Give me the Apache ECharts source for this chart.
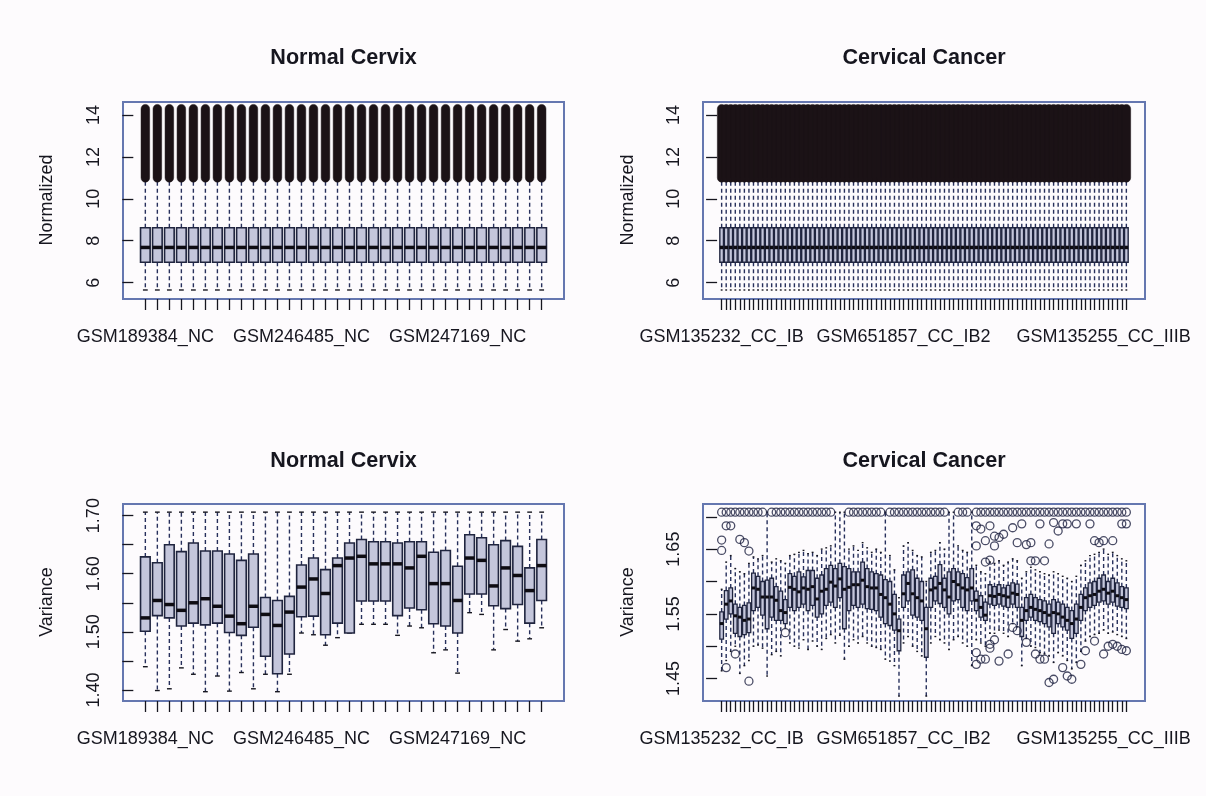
<!DOCTYPE html>
<html>
<head>
<meta charset="utf-8">
<script src="https://cdn.jsdelivr.net/npm/echarts@6/dist/echarts.min.js"></script>
<style>
  html, body { margin: 0; padding: 0; background: #fdfbfd; }
  #chart { width: 1206px; height: 796px; }
</style>
</head>
<body>
<div id="chart"></div>
<script>
// ---- tick labels under each panel ('' = tick drawn without a printed name) ----
const ncTickLabels = [
  'GSM189384_NC', '', '', '', '', '', '', '', '', '', '', '', '',
  'GSM246485_NC', '', '', '', '', '', '', '', '', '', '', '', '',
  'GSM247169_NC', '', '', '', '', '', '', ''
];
const ccTickLabels = [
  'GSM135232_CC_IB', '', '', '', '', '', '', '', '', '', '', '', '', '', '', '', '', '', '', '',
  '', '', '', '', '', '', '', '', '', '', '', '', '', '', '', '', '', '', '', '',
  'GSM651857_CC_IB2', '', '', '', '', '', '', '', '', '', '', '', '', '', '', '', '', '', '', '',
  '', '', '', '', '', '', '', '', '', '', '', '', '', '', '', '', '', '', '', '',
  '', '', '', '', 'GSM135255_CC_IIIB', '', '', '', '', ''
];

// ---- y-axis ticks and labels ----
const normTicks = [6, 8, 10, 12, 14];
const ncVarTicks = [1.40, 1.45, 1.50, 1.55, 1.60, 1.65, 1.70];
const ncVarLabels = [1.40, 1.50, 1.60, 1.70];
const ccVarTicks = [1.45, 1.50, 1.55, 1.60, 1.65, 1.70];
const ccVarLabels = [1.45, 1.55, 1.65];

// ---- quantile-normalized expression: every array shares one distribution ----
// [lower whisker, Q1, median, Q3, upper whisker]
const normalizedBox = [5.65, 6.97, 7.68, 8.62, 10.90];
// span of the dense run of outliers above the upper whisker
const normalizedOutlierSpan = [11.0, 14.3];

// ---- variance, normal cervix (34 arrays) ----
const ncVarLow = [1.440, 1.399, 1.402, 1.438, 1.427, 1.397, 1.424, 1.398, 1.430, 1.402, 1.427, 1.397, 1.427, 1.498, 1.495, 1.477, 1.490,
                  1.498, 1.513, 1.513, 1.513, 1.494, 1.510, 1.507, 1.464, 1.469, 1.429, 1.533, 1.530, 1.469, 1.504, 1.484, 1.488, 1.507];
const ncVarQ1 = [1.501, 1.528, 1.524, 1.510, 1.515, 1.512, 1.515, 1.499, 1.494, 1.508, 1.458, 1.428, 1.462, 1.526, 1.527, 1.495, 1.515,
                 1.498, 1.553, 1.553, 1.553, 1.528, 1.541, 1.538, 1.514, 1.510, 1.498, 1.565, 1.565, 1.545, 1.540, 1.547, 1.515, 1.554];
const ncVarMedian = [1.524, 1.554, 1.547, 1.537, 1.550, 1.557, 1.544, 1.527, 1.514, 1.544, 1.530, 1.511, 1.534, 1.577, 1.591, 1.566, 1.614,
                     1.627, 1.630, 1.617, 1.617, 1.617, 1.610, 1.630, 1.583, 1.583, 1.554, 1.627, 1.623, 1.579, 1.610, 1.597, 1.571, 1.614];
const ncVarQ3 = [1.629, 1.619, 1.650, 1.638, 1.653, 1.639, 1.639, 1.634, 1.623, 1.634, 1.559, 1.554, 1.561, 1.615, 1.627, 1.607, 1.627,
                 1.653, 1.659, 1.655, 1.655, 1.653, 1.655, 1.655, 1.637, 1.640, 1.613, 1.667, 1.662, 1.650, 1.657, 1.647, 1.610, 1.659];
const ncVarHigh = [1.706, 1.706, 1.706, 1.706, 1.706, 1.706, 1.706, 1.706, 1.706, 1.706, 1.706, 1.706, 1.706, 1.706, 1.706, 1.706, 1.706,
                   1.706, 1.706, 1.706, 1.706, 1.706, 1.706, 1.706, 1.706, 1.706, 1.706, 1.706, 1.706, 1.706, 1.706, 1.706, 1.706, 1.706];

// ---- variance, cervical cancer (90 arrays) ----
const ccVarLow = [
  1.462, 1.478, 1.492, 1.500, 1.458, 1.470, 1.478, 1.500, 1.502, 1.497, 1.454, 1.487, 1.492, 1.485, 1.528,
  1.505, 1.500, 1.497, 1.510, 1.495, 1.508, 1.500, 1.495, 1.512, 1.518, 1.505, 1.517, 1.480, 1.500, 1.510,
  1.505, 1.515, 1.505, 1.500, 1.498, 1.495, 1.480, 1.477, 1.470, 1.423, 1.505, 1.515, 1.500, 1.492, 1.485,
  1.423, 1.505, 1.515, 1.510, 1.505, 1.495, 1.510, 1.515, 1.505, 1.500, 1.470, 1.510, 1.505, 1.500, 1.520,
  1.520, 1.525, 1.520, 1.515, 1.535, 1.530, 1.470, 1.512, 1.500, 1.498, 1.490, 1.488, 1.485, 1.475, 1.490,
  1.485, 1.478, 1.465, 1.475, 1.492, 1.508, 1.515, 1.518, 1.520, 1.525, 1.520, 1.522, 1.518, 1.515, 1.512
];
const ccVarQ1 = [
  1.511, 1.542, 1.550, 1.520, 1.515, 1.518, 1.521, 1.555, 1.560, 1.548, 1.527, 1.545, 1.540, 1.540, 1.535,
  1.560, 1.555, 1.560, 1.565, 1.555, 1.563, 1.545, 1.550, 1.563, 1.568, 1.560, 1.575, 1.527, 1.555, 1.563,
  1.560, 1.565, 1.558, 1.557, 1.555, 1.545, 1.535, 1.532, 1.525, 1.493, 1.560, 1.570, 1.548, 1.545, 1.540,
  1.483, 1.560, 1.570, 1.566, 1.560, 1.550, 1.570, 1.572, 1.560, 1.555, 1.570, 1.555, 1.545, 1.540, 1.565,
  1.563, 1.565, 1.562, 1.560, 1.565, 1.560, 1.515, 1.540, 1.545, 1.540, 1.538, 1.535, 1.530, 1.520, 1.535,
  1.530, 1.525, 1.512, 1.520, 1.540, 1.555, 1.560, 1.563, 1.568, 1.570, 1.565, 1.568, 1.562, 1.560, 1.558
];
const ccVarMedian = [
  1.535, 1.565, 1.570, 1.547, 1.545, 1.540, 1.542, 1.590, 1.588, 1.576, 1.576, 1.576, 1.571, 1.555, 1.552,
  1.591, 1.588, 1.584, 1.590, 1.588, 1.592, 1.573, 1.585, 1.588, 1.599, 1.593, 1.604, 1.588, 1.591, 1.595,
  1.595, 1.602, 1.592, 1.590, 1.590, 1.580, 1.575, 1.565, 1.550, 1.524, 1.581, 1.597, 1.581, 1.575, 1.570,
  1.527, 1.587, 1.590, 1.597, 1.587, 1.576, 1.600, 1.595, 1.590, 1.587, 1.590, 1.571, 1.560, 1.548, 1.578,
  1.577, 1.580, 1.578, 1.576, 1.582, 1.580, 1.540, 1.555, 1.560, 1.557, 1.555, 1.552, 1.548, 1.552, 1.550,
  1.545, 1.540, 1.535, 1.542, 1.560, 1.575, 1.578, 1.580, 1.585, 1.588, 1.582, 1.585, 1.578, 1.575, 1.572
];
const ccVarQ3 = [
  1.553, 1.586, 1.590, 1.565, 1.560, 1.563, 1.567, 1.613, 1.608, 1.600, 1.602, 1.605, 1.592, 1.585, 1.572,
  1.612, 1.608, 1.615, 1.607, 1.617, 1.617, 1.605, 1.610, 1.620, 1.625, 1.620, 1.628, 1.623, 1.620, 1.615,
  1.615, 1.630, 1.620, 1.615, 1.612, 1.610, 1.603, 1.600, 1.580, 1.542, 1.610, 1.615, 1.618, 1.605, 1.600,
  1.560, 1.605, 1.608, 1.626, 1.605, 1.615, 1.620, 1.615, 1.612, 1.606, 1.620, 1.585, 1.578, 1.568, 1.595,
  1.592, 1.595, 1.590, 1.594, 1.598, 1.596, 1.560, 1.575, 1.580, 1.575, 1.572, 1.570, 1.565, 1.572, 1.568,
  1.565, 1.560, 1.555, 1.565, 1.580, 1.590, 1.598, 1.600, 1.605, 1.610, 1.600, 1.605, 1.598, 1.592, 1.590
];
const ccVarHigh = [
  1.588, 1.630, 1.640, 1.620, 1.615, 1.612, 1.628, 1.638, 1.635, 1.640, 1.707, 1.630, 1.635, 1.632, 1.628,
  1.640, 1.642, 1.645, 1.648, 1.643, 1.645, 1.640, 1.650, 1.652, 1.655, 1.707, 1.707, 1.707, 1.650, 1.655,
  1.648, 1.660, 1.652, 1.645, 1.650, 1.645, 1.707, 1.640, 1.618, 1.575, 1.655, 1.660, 1.648, 1.640, 1.638,
  1.600, 1.645, 1.648, 1.660, 1.650, 1.707, 1.707, 1.655, 1.648, 1.645, 1.707, 1.625, 1.615, 1.612, 1.630,
  1.628, 1.632, 1.625, 1.630, 1.635, 1.632, 1.605, 1.615, 1.622, 1.618, 1.615, 1.612, 1.610, 1.615, 1.612,
  1.608, 1.605, 1.600, 1.608, 1.625, 1.632, 1.640, 1.642, 1.645, 1.650, 1.642, 1.645, 1.640, 1.635, 1.632
];
const ccVarOutliers = [
  [1.707, 1.664, 1.648], [1.707, 1.686, 1.467], [1.707, 1.686], [1.707, 1.488], [1.707, 1.665],
  [1.707, 1.660], [1.707, 1.647, 1.446], [1.707], [1.707], [1.707],
  [], [1.707], [1.707], [1.707], [1.707, 1.521],
  [1.707], [1.707], [1.707], [1.707], [1.707],
  [1.707], [1.707], [1.707], [1.707], [1.707],
  [], [], [], [1.707], [1.707],
  [1.707], [1.707], [1.707], [1.707], [1.707],
  [1.707], [], [1.707], [1.707], [1.707],
  [1.707], [1.707], [1.707], [1.707], [1.707],
  [1.707], [1.707], [1.707], [1.707], [1.707],
  [], [], [1.707], [1.707], [1.707],
  [], [1.707, 1.686, 1.655, 1.490, 1.472], [1.707, 1.681, 1.480], [1.707, 1.663, 1.630, 1.480], [1.707, 1.686, 1.633, 1.503, 1.497],
  [1.707, 1.670, 1.655, 1.510], [1.707, 1.668, 1.477], [1.707, 1.673], [1.707, 1.488], [1.707, 1.683, 1.529],
  [1.707, 1.660, 1.524], [1.707, 1.689], [1.707, 1.657, 1.506], [1.707, 1.660, 1.632], [1.707, 1.632, 1.488],
  [1.707, 1.689, 1.480], [1.707, 1.632, 1.480], [1.707, 1.658, 1.444], [1.707, 1.691, 1.449], [1.707, 1.678],
  [1.707, 1.689, 1.467], [1.707, 1.689, 1.454], [1.707, 1.449], [1.707, 1.689], [1.707, 1.472],
  [1.707, 1.493], [1.707, 1.689], [1.707, 1.663, 1.508], [1.707, 1.660], [1.707, 1.663, 1.488],
  [1.707, 1.500], [1.707, 1.663, 1.503], [1.707, 1.500], [1.707, 1.689, 1.495], [1.707, 1.689, 1.493]
];

// ---- styling ----
const FONT = '"Liberation Sans", Arial, Helvetica, sans-serif';
const INK = '#16161f';
const FRAME = '#6577b0';
const BOX_FILL = '#c4c6db';
const BOX_EDGE = '#20253f';
const WHISKER = '#27305c';

// plot regions, in the order: normalized NC, normalized CC, variance NC, variance CC
const panels = [
  { left: 123, top: 102, width: 441, height: 197 },
  { left: 703, top: 102, width: 442, height: 197 },
  { left: 123, top: 504, width: 441, height: 197 },
  { left: 703, top: 504, width: 442, height: 197 }
];

function xAxisFor(gridIndex, labels) {
  const n = labels.length;
  const pos = labels.map((_, i) => i + 1);
  return {
    type: 'value', gridIndex,
    min: 0.5 - 0.04 * n, max: n + 0.5 + 0.04 * n,
    splitLine: { show: false },
    axisLine: { show: false },
    axisTick: { show: true, customValues: pos, length: 11, lineStyle: { color: INK, width: 1.3 } },
    axisLabel: {
      show: true,
      customValues: pos.filter(p => labels[p - 1] !== ''),
      formatter: v => labels[Math.round(v) - 1] || '',
      margin: 29, fontSize: 18, fontFamily: FONT, color: INK, hideOverlap: false
    }
  };
}

function yAxisFor(gridIndex, min, max, ticks, labels, digits) {
  return {
    type: 'value', gridIndex, min, max,
    splitLine: { show: false },
    axisLine: { show: false },
    axisTick: { show: true, customValues: ticks, length: 11, lineStyle: { color: INK, width: 1.3 } },
    axisLabel: {
      show: true, customValues: labels, rotate: 90, margin: 20,
      formatter: v => Number(v).toFixed(digits),
      fontSize: 18, fontFamily: FONT, color: INK, hideOverlap: false
    }
  };
}

// one R-style box: dashed whiskers, short staples, filled box, thick median
function makeBoxRenderer(edgeWidth, medianWidth) {
  return function (params, api) {
    const x = api.value(0);
    const lo = api.coord([x, api.value(1)]);
    const q1 = api.coord([x, api.value(2)]);
    const md = api.coord([x, api.value(3)]);
    const q3 = api.coord([x, api.value(4)]);
    const hi = api.coord([x, api.value(5)]);
    const w = api.size([0.8, 0])[0];
    const cx = md[0];
    const staple = w / 4;
    const dash = { stroke: WHISKER, lineWidth: 1.4, lineDash: [4, 3] };
    return {
      type: 'group',
      children: [
        { type: 'line', shape: { x1: cx, y1: q3[1], x2: cx, y2: hi[1] }, style: dash },
        { type: 'line', shape: { x1: cx, y1: q1[1], x2: cx, y2: lo[1] }, style: dash },
        { type: 'line', shape: { x1: cx - staple, y1: hi[1], x2: cx + staple, y2: hi[1] }, style: { stroke: INK, lineWidth: 1.4 } },
        { type: 'line', shape: { x1: cx - staple, y1: lo[1], x2: cx + staple, y2: lo[1] }, style: { stroke: INK, lineWidth: 1.4 } },
        { type: 'rect', shape: { x: cx - w / 2, y: q3[1], width: w, height: q1[1] - q3[1] },
          style: { fill: BOX_FILL, stroke: BOX_EDGE, lineWidth: edgeWidth } },
        { type: 'line', shape: { x1: cx - w / 2, y1: md[1], x2: cx + w / 2, y2: md[1] }, style: { stroke: '#0e0c12', lineWidth: medianWidth } }
      ]
    };
  };
}

// a run of overlapping outlier circles drawn as one capsule
function renderOutlierRun(params, api) {
  const x = api.value(0);
  const a = api.coord([x, api.value(1)]);
  const b = api.coord([x, api.value(2)]);
  const r = 4.3;
  return {
    type: 'rect',
    shape: { x: a[0] - r, y: b[1] - r, width: 2 * r, height: a[1] - b[1] + 2 * r, r: r },
    style: { fill: '#1b1216', stroke: '#1b1216', lineWidth: 0.5 }
  };
}

function boxSeries(idx, rows, edgeWidth, medianWidth) {
  return {
    type: 'custom', xAxisIndex: idx, yAxisIndex: idx, silent: true, clip: false,
    renderItem: makeBoxRenderer(edgeWidth, medianWidth), data: rows, encode: { x: 0, y: [1, 2, 3, 4, 5] }, z: 2
  };
}

const ncNormRows = ncTickLabels.map((_, i) => [i + 1, ...normalizedBox]);
const ccNormRows = ccTickLabels.map((_, i) => [i + 1, ...normalizedBox]);
const ncNormRuns = ncTickLabels.map((_, i) => [i + 1, ...normalizedOutlierSpan]);
const ccNormRuns = ccTickLabels.map((_, i) => [i + 1, ...normalizedOutlierSpan]);
const ncVarRows = ncVarLow.map((v, i) => [i + 1, v, ncVarQ1[i], ncVarMedian[i], ncVarQ3[i], ncVarHigh[i]]);
const ccVarRows = ccVarLow.map((v, i) => [i + 1, v, ccVarQ1[i], ccVarMedian[i], ccVarQ3[i], ccVarHigh[i]]);
const ccOutlierPoints = [];
ccVarOutliers.forEach((list, i) => list.forEach(v => ccOutlierPoints.push([i + 1, v])));

function titleText(cx, cy, text) {
  return { type: 'text', x: cx, y: cy, silent: true,
    style: { text, font: 'bold 21.6px ' + FONT, fill: INK, textAlign: 'center', textVerticalAlign: 'middle' } };
}
function axisName(cx, cy, text) {
  return { type: 'text', x: cx, y: cy, rotation: Math.PI / 2, silent: true,
    style: { text, font: '18px ' + FONT, fill: INK, textAlign: 'center', textVerticalAlign: 'middle' } };
}

const chart = echarts.init(document.getElementById('chart'), null, { renderer: 'canvas' });
chart.setOption({
  backgroundColor: '#fdfbfd',
  animation: false,
  grid: panels.map(p => Object.assign({ show: true, borderColor: FRAME, borderWidth: 2, backgroundColor: 'transparent' }, p)),
  xAxis: [
    xAxisFor(0, ncTickLabels),
    xAxisFor(1, ccTickLabels),
    xAxisFor(2, ncTickLabels),
    xAxisFor(3, ccTickLabels)
  ],
  yAxis: [
    yAxisFor(0, 5.22, 14.62, normTicks, normTicks, 0),
    yAxisFor(1, 5.22, 14.62, normTicks, normTicks, 0),
    yAxisFor(2, 1.381, 1.720, ncVarTicks, ncVarLabels, 2),
    yAxisFor(3, 1.4154, 1.7197, ccVarTicks, ccVarLabels, 2)
  ],
  series: [
    boxSeries(0, ncNormRows, 1.6, 3.5),
    { type: 'custom', xAxisIndex: 0, yAxisIndex: 0, silent: true, renderItem: renderOutlierRun, data: ncNormRuns, z: 3 },
    boxSeries(1, ccNormRows, 1.4, 3.5),
    { type: 'custom', xAxisIndex: 1, yAxisIndex: 1, silent: true, renderItem: renderOutlierRun, data: ccNormRuns, z: 3 },
    boxSeries(2, ncVarRows, 1.6, 3.5),
    boxSeries(3, ccVarRows, 1.3, 3),
    {
      type: 'scatter', xAxisIndex: 3, yAxisIndex: 3, silent: true, z: 3,
      symbol: 'circle', symbolSize: 8, data: ccOutlierPoints,
      itemStyle: { color: 'rgba(0,0,0,0)', borderColor: '#1d2040', borderWidth: 1.3 }
    }
  ],
  graphic: [
    titleText(343.5, 58, 'Normal Cervix'),
    titleText(924, 58, 'Cervical Cancer'),
    titleText(343.5, 461, 'Normal Cervix'),
    titleText(924, 461, 'Cervical Cancer'),
    axisName(47, 200, 'Normalized'),
    axisName(628, 200, 'Normalized'),
    axisName(47, 602, 'Variance'),
    axisName(628, 602, 'Variance')
  ]
});
</script>
</body>
</html>
